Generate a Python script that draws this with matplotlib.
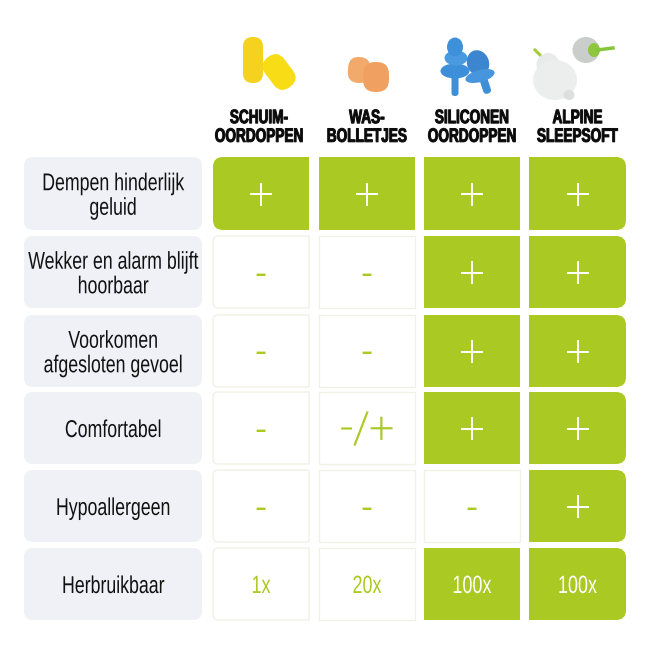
import matplotlib.pyplot as plt
from matplotlib.patches import PathPatch, FancyBboxPatch, Ellipse
from matplotlib.patheffects import AbstractPathEffect
from matplotlib.path import Path
from matplotlib.text import Text
from matplotlib.transforms import Affine2D, Bbox

columns = ["SCHUIM-\nOORDOPPEN", "WAS-\nBOLLETJES", "SILICONEN\nOORDOPPEN", "ALPINE\nSLEEPSOFT"]
features = ["Dempen hinderlijk\ngeluid", "Wekker en alarm blijft\nhoorbaar", "Voorkomen\nafgesloten gevoel",
            "Comfortabel", "Hypoallergeen", "Herbruikbaar"]
schuim = ["+", "-", "-", "-", "-", "1x"]
was = ["+", "-", "-", "-/+", "-", "20x"]
siliconen = ["+", "+", "+", "+", "-", "100x"]
alpine = ["+", "+", "+", "+", "+", "100x"]
# which cells are filled green
schuim_on = [1, 0, 0, 0, 0, 0]
was_on = [1, 0, 0, 0, 0, 0]
siliconen_on = [1, 1, 1, 1, 0, 1]
alpine_on = [1, 1, 1, 1, 1, 1]

green = "#aac923"
pale = "#f1f2e6"
label_bg = "#eff1f6"

col_x = [(213, 309), (319, 415), (424, 520), (529, 626)]
row_y = [(157, 230), (236, 308), (315, 387), (392, 464), (470, 542), (548, 620)]

plt.rcParams['font.family'] = ['Liberation Sans', 'DejaVu Sans']

fig = plt.figure(figsize=(6.5, 6.5), dpi=100)
ax = fig.add_axes([0, 0, 1, 1])
ax.set_xlim(0, 650)
ax.set_ylim(650, 0)
ax.axis('off')


class Squeeze(AbstractPathEffect):
    # narrows text around a centre x, there is no condensed font installed
    def __init__(self, x0, sx, stroke=0):
        super().__init__()
        self.x0 = x0
        self.sx = sx
        self.stroke = stroke

    def draw_path(self, renderer, gc, tpath, affine, rgbFace=None):
        px = ax.transData.transform((self.x0, 0))[0]
        aff = affine + Affine2D().translate(-px, 0).scale(self.sx, 1).translate(px, 0)
        gc0 = renderer.new_gc()
        gc0.copy_properties(gc)
        if self.stroke:
            gc0.set_linewidth(self.stroke)
            gc0.set_foreground(rgbFace)
        else:
            gc0.set_linewidth(0)
        renderer.draw_path(gc0, tpath, aff, rgbFace)
        gc0.restore()


class NarrowText(Text):
    # same squeeze for the extent, so it reports what is really drawn
    def __init__(self, x, y, s, sx, stroke=0, **kw):
        super().__init__(x, y, s, ha='center', va='center', path_effects=[Squeeze(x, sx, stroke)], **kw)
        self.sx = sx

    def get_window_extent(self, renderer=None, dpi=None):
        bb = super().get_window_extent(renderer, dpi)
        px = (bb.x0 + bb.x1) / 2
        return Bbox.from_extents(px + (bb.x0 - px) * self.sx, bb.y0, px + (bb.x1 - px) * self.sx, bb.y1)


def narrow_text(x, y, s, sx, stroke=0, **kw):
    ax.add_artist(NarrowText(x, y, s, sx, stroke, **kw))


def cell_path(x0, x1, y0, y1, left, right, r=10):
    # rectangle with optional rounded corners on one side
    if left:
        verts = [(x0 + r, y0)]
    else:
        verts = [(x0, y0)]
    codes = [Path.MOVETO]
    if right:
        verts += [(x1 - r, y0), (x1, y0), (x1, y0 + r), (x1, y1 - r), (x1, y1), (x1 - r, y1)]
        codes += [Path.LINETO, Path.CURVE3, Path.CURVE3, Path.LINETO, Path.CURVE3, Path.CURVE3]
    else:
        verts += [(x1, y0), (x1, y1)]
        codes += [Path.LINETO, Path.LINETO]
    if left:
        verts += [(x0 + r, y1), (x0, y1), (x0, y1 - r), (x0, y0 + r), (x0, y0), (x0 + r, y0)]
        codes += [Path.LINETO, Path.CURVE3, Path.CURVE3, Path.LINETO, Path.CURVE3, Path.CURVE3]
    else:
        verts += [(x0, y1), (x0, y0)]
        codes += [Path.LINETO, Path.LINETO]
    return Path(verts, codes)


def capsule(cx, cy, w, h, angle, color, z=3):
    patch = FancyBboxPatch((cx - w / 2, cy - h / 2), w, h, boxstyle="round,pad=0,rounding_size=%f" % (w * 0.48),
                           fc=color, ec='none', zorder=z)
    patch.set_transform(Affine2D().rotate_deg_around(cx, cy, angle) + ax.transData)
    ax.add_patch(patch)


def blob(cx, cy, w, h, color, angle=0, z=3):
    ax.add_patch(Ellipse((cx, cy), w, h, angle=angle, fc=color, ec='none', zorder=z))


# row labels
for i, feat in enumerate(features):
    y0, y1 = row_y[i]
    ax.add_patch(FancyBboxPatch((24, y0), 178, y1 - y0, boxstyle="round,pad=0,rounding_size=9",
                                fc=label_bg, ec='none'))
    narrow_text(113, (y0 + y1) / 2 + 3, feat, 0.73, fontsize=17.5, color='#111111', linespacing=1.15, zorder=3)

# cells
values = [schuim, was, siliconen, alpine]
filled = [schuim_on, was_on, siliconen_on, alpine_on]
for j, (xa, xb) in enumerate(col_x):
    xc = (xa + xb) / 2
    for i, (ya, yb) in enumerate(row_y):
        on = filled[j][i]
        p = cell_path(xa, xb, ya, yb, j == 0, j == 3, r=10 if on else 5)
        ax.add_patch(PathPatch(p, fc=green if on else 'white', ec='none' if on else pale, lw=1.0))
        val = values[j][i]
        yc = (ya + yb) / 2
        color = 'white' if on else green
        if val == "+" or val == "-/+":
            narrow_text(xc, yc + 3, val, 1.0, stroke=0.7, fontsize=31, color=color, family='Roboto',
                        fontweight='light', zorder=3)
        elif val == "-":
            ax.text(xc - 1, yc + 2, val, ha='center', va='center', fontsize=26, color=color)
        else:
            narrow_text(xc, yc + 2, val, 0.72, fontsize=18, color=color, zorder=3)

# column headers
for j, name in enumerate(columns):
    xc = sum(col_x[j]) / 2
    if j == 0:
        xc = 259
    narrow_text(xc, 128, name, 0.7, stroke=0.7, fontsize=14, fontweight='bold', color='#0a0a0a', linespacing=1.13)

# yellow foam plugs
capsule(253, 60, 20, 46, 0, '#f5d21f')
capsule(279, 72, 24, 37, -37, '#f7dc16', 4)
# orange wax balls
capsule(359, 70, 22, 26, 5, '#f1aa6b')
capsule(376, 77, 26, 30, 0, '#f0a060', 4)
# blue silicone plugs
capsule(455, 85, 7, 22, 0, '#3f8fd6')
blob(455, 71, 29, 15, '#3c8fd8')
blob(456, 58, 23, 15, '#4a9ae0')
blob(455, 47, 16, 19, '#3f90da')
capsule(485, 84, 8, 20, -18, '#3f8fd6', 4)
blob(478, 63, 22, 26, '#3b86cf', angle=-20, z=4)
blob(480, 76, 30, 12, '#4795dc', angle=-15, z=4)
# alpine plugs, grey disk behind and white body in front
blob(586, 50, 27, 26, '#c9ceca')
blob(594, 50, 12, 14, '#8ec63f', z=4)
ax.plot([597, 613], [50, 48], color='#85c63a', lw=2.5, zorder=5)
ax.plot([535, 543], [50, 58], color='#a4cd39', lw=2.2, zorder=3)
blob(548, 65, 23, 24, '#e9ebea', z=4)
blob(555, 80, 44, 40, '#eceeed', z=4)
blob(569, 95, 11, 10, '#dcdfdd', z=5)

fig.savefig("out.png", dpi=100)
